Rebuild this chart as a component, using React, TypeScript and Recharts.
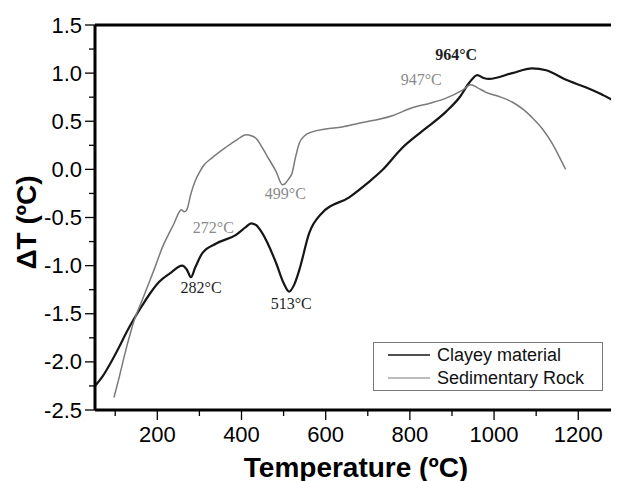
import React from 'react';
import { LineChart, Line, XAxis, YAxis, ReferenceLine, ReferenceDot, Legend } from 'recharts';

// Clayey material (black curve)
const clayT = [50, 70, 93, 110, 126, 145, 162, 181, 204, 230, 259, 270, 280, 290, 307, 340, 387, 410, 423, 435, 449, 482, 500, 513, 525, 537, 561, 592, 656, 700, 734, 781, 830, 886, 920, 941, 960, 975, 988, 1043, 1090, 1124, 1171, 1219, 1250, 1290];
const clayV = [-2.26, -2.15, -1.98, -1.84, -1.70, -1.55, -1.43, -1.30, -1.17, -1.08, -1.00, -1.04, -1.12, -1.02, -0.87, -0.77, -0.68, -0.60, -0.56, -0.58, -0.66, -0.97, -1.18, -1.27, -1.20, -1.05, -0.66, -0.45, -0.29, -0.14, -0.01, 0.22, 0.40, 0.60, 0.76, 0.90, 0.98, 0.95, 0.94, 1.00, 1.05, 1.03, 0.93, 0.85, 0.79, 0.70];

// Sedimentary rock (grey curve)
const rockT = [97, 110, 121, 133, 145, 164, 181, 196, 212, 226, 240, 250, 257, 264, 270, 280, 290, 299, 310, 330, 363, 390, 411, 423, 435, 450, 466, 482, 497, 503, 512, 520, 528, 537, 550, 568, 600, 639, 679, 727, 760, 805, 850, 886, 924, 945, 960, 981, 1010, 1043, 1070, 1090, 1115, 1138, 1155, 1170];
const rockV = [-2.37, -2.15, -1.95, -1.75, -1.57, -1.36, -1.17, -1.00, -0.81, -0.68, -0.56, -0.46, -0.42, -0.44, -0.42, -0.25, -0.12, -0.04, 0.04, 0.12, 0.23, 0.31, 0.36, 0.35, 0.32, 0.22, 0.10, -0.02, -0.16, -0.15, -0.10, -0.04, 0.12, 0.27, 0.35, 0.39, 0.42, 0.44, 0.48, 0.52, 0.56, 0.64, 0.69, 0.74, 0.82, 0.88, 0.85, 0.80, 0.76, 0.70, 0.62, 0.54, 0.42, 0.27, 0.13, 0.00];

const seriesNames = ['Clayey material', 'Sedimentary Rock'];
const seriesColors = ['#161616', '#7a7a7a'];
const seriesWidths = [2.2, 1.5];

// Peak annotations
const peakLabels = ['964°C', '947°C', '499°C', '272°C', '282°C', '513°C'];
const peakT = [910, 827, 504, 333, 304, 518];
const peakV = [1.19, 0.93, -0.25, -0.60, -1.23, -1.39];
const peakSeries = [0, 1, 1, 1, 0, 0];

const xTicks = [100, 200, 300, 400, 500, 600, 700, 800, 900, 1000, 1100, 1200];
const xLabelled = [200, 400, 600, 800, 1000, 1200];
const yTicks = [-2.5, -2.25, -2.0, -1.75, -1.5, -1.25, -1.0, -0.75, -0.5, -0.25, 0, 0.25, 0.5, 0.75, 1.0, 1.25, 1.5];

const clayData = clayT.map((t, i) => ({ t, v: clayV[i] }));
const rockData = rockT.map((t, i) => ({ t, v: rockV[i] }));

const SANS = '"Liberation Sans", Arial, sans-serif';
const SERIF = '"Liberation Serif", "Times New Roman", serif';

const XTick = (props: any) => {
  const { x, y, payload } = props;
  const major = xLabelled.includes(payload.value);
  return (
    <g>
      <line x1={x} x2={x} y1={y} y2={y + (major ? 10 : 6)} stroke="#000" strokeWidth={1.3} />
      {major && (
        <text x={x} y={y + 24} textAnchor="middle" dominantBaseline="central" fontFamily={SANS} fontSize={22} fill="#000">
          {payload.value}
        </text>
      )}
    </g>
  );
};

const YTick = (props: any) => {
  const { x, y, payload } = props;
  const v = payload.value;
  const major = Math.abs(v * 2 - Math.round(v * 2)) < 1e-6;
  return (
    <g>
      <line x1={x - (major ? 10 : 6)} x2={x} y1={y} y2={y} stroke="#000" strokeWidth={1.3} />
      {major && (
        <text x={x - 13} y={y} textAnchor="end" dominantBaseline="central" fontFamily={SANS} fontSize={22} fill="#000">
          {v.toFixed(1)}
        </text>
      )}
    </g>
  );
};

const renderLegend = () => (
  <div style={{ position: 'relative', width: 230, height: 49, border: '1px solid #777', boxSizing: 'border-box', background: '#fff' }}>
    {seriesNames.map((name, i) => (
      <div key={name} style={{ position: 'absolute', left: 14, top: 1 + i * 23, height: 22, display: 'flex', alignItems: 'center' }}>
        <svg width={44} height={22} style={{ display: 'block' }}>
          <line x1={0} x2={42} y1={11} y2={11} stroke={seriesColors[i]} strokeWidth={seriesWidths[i] * 0.7} />
        </svg>
        <span style={{ marginLeft: 5, fontSize: 18, fontFamily: SANS, color: '#111', lineHeight: '22px', whiteSpace: 'nowrap' }}>{name}</span>
      </div>
    ))}
  </div>
);

export default function App() {
  return (
    <div style={{ width: 611, height: 473, position: 'relative' }}>
      <LineChart width={611} height={473} margin={{ top: 17, right: 2, bottom: 31, left: 17 }}>
        <XAxis
          dataKey="t"
          type="number"
          domain={[52, 1292]}
          ticks={xTicks}
          interval={0}
          allowDataOverflow
          height={40}
          tickSize={0}
          tickMargin={0}
          tickLine={false}
          axisLine={{ stroke: '#000', strokeWidth: 3 }}
          tick={XTick}
          label={{
            content: (p: any) => {
              const vb = p.viewBox || { x: 87, y: 402, width: 522, height: 40 };
              return (
                <text x={vb.x + vb.width / 2} y={vb.y + 57} textAnchor="middle" dominantBaseline="central" fontFamily={SANS} fontWeight="bold" fontSize={28} fill="#000">
                  Temperature (ºC)
                </text>
              );
            },
          }}
        />
        <YAxis
          type="number"
          domain={[-2.5, 1.5]}
          ticks={yTicks}
          interval={0}
          allowDataOverflow
          width={70}
          tickSize={0}
          tickMargin={0}
          tickLine={false}
          axisLine={{ stroke: '#000', strokeWidth: 3 }}
          tick={YTick}
          label={{
            content: (p: any) => {
              const vb = p.viewBox || { x: 17, y: 17, width: 70, height: 385 };
              const cx = vb.x + 1;
              const cy = vb.y + vb.height / 2 + 5;
              return (
                <text x={cx} y={cy} transform={`rotate(-90, ${cx}, ${cy})`} textAnchor="middle" dominantBaseline="central" fontFamily={SANS} fontWeight="bold" fontSize={28} fill="#000">
                  ΔT (ºC)
                </text>
              );
            },
          }}
        />
        <ReferenceLine y={1.5} stroke="#000" strokeWidth={3} ifOverflow="visible" />
        <ReferenceLine x={1292} stroke="#888" strokeWidth={1} ifOverflow="visible" />
        <Line data={clayData} dataKey="v" name={seriesNames[0]} type="monotone" stroke={seriesColors[0]} strokeWidth={seriesWidths[0]} dot={false} isAnimationActive={false} />
        <Line data={rockData} dataKey="v" name={seriesNames[1]} type="monotone" stroke={seriesColors[1]} strokeWidth={seriesWidths[1]} dot={false} isAnimationActive={false} />
        {peakLabels.map((lab, i) => (
          <ReferenceDot
            key={lab}
            x={peakT[i]}
            y={peakV[i]}
            r={0}
            ifOverflow="visible"
            shape={(p: any) => (
              <text
                x={p.cx}
                y={p.cy}
                textAnchor="middle"
                dominantBaseline="central"
                fontFamily={SERIF}
                fontSize={16}
                fontWeight={i === 0 ? 'bold' : 'normal'}
                fill={peakSeries[i] === 0 ? '#1e1e1e' : '#8a8a8a'}
              >
                {lab}
              </text>
            )}
          />
        ))}
        <Legend layout="vertical" verticalAlign="middle" align="center" wrapperStyle={{ left: 365, top: 334, width: 230, height: 49 }} content={renderLegend} />
      </LineChart>
    </div>
  );
}
